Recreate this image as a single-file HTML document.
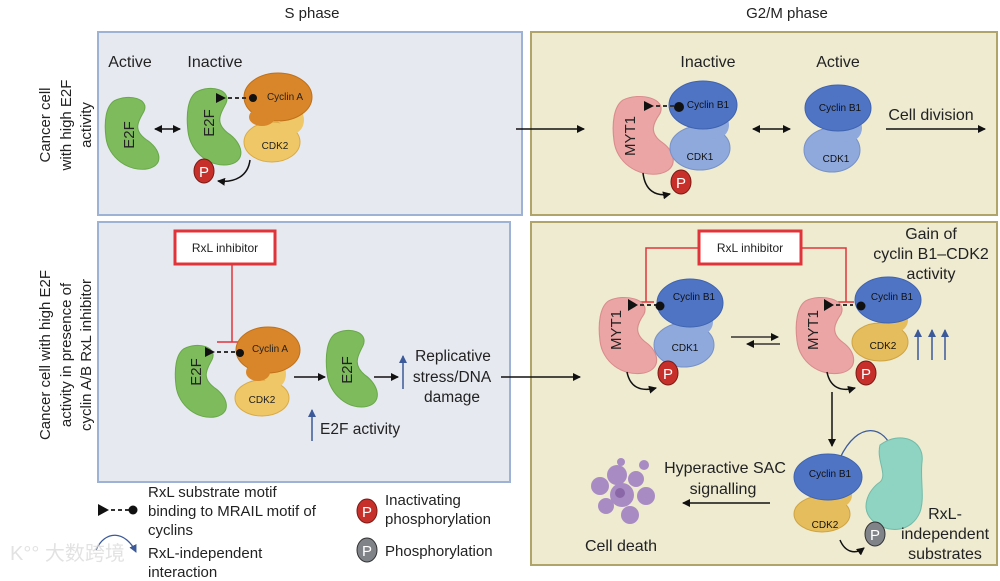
<!DOCTYPE html>
<html><head><meta charset="utf-8"><style>
html,body{margin:0;padding:0;background:#fff}
svg{display:block;font-family:"Liberation Sans","Noto Sans CJK SC",sans-serif}
</style></head><body>
<svg width="1000" height="581" viewBox="0 0 1000 581" xmlns="http://www.w3.org/2000/svg">
<defs>
<marker id="ah" markerWidth="8" markerHeight="8" refX="7" refY="4" orient="auto" markerUnits="userSpaceOnUse"><path d="M0,0 L8,4 L0,8 Z" fill="#111"/></marker>
<marker id="ahs" markerWidth="8" markerHeight="8" refX="1" refY="4" orient="auto" markerUnits="userSpaceOnUse"><path d="M8,0 L0,4 L8,8 Z" fill="#111"/></marker>
<marker id="ahb" markerWidth="8" markerHeight="8" refX="7" refY="4" orient="auto" markerUnits="userSpaceOnUse"><path d="M0,0 L8,4 L0,8 Z" fill="#3c5a99"/></marker>
<g id="e2f"><path d="M8,4 C22,-4 42,2 36,16 C30,28 26,36 38,46 C52,56 56,74 40,78 C22,82 2,66 0,44 C-2,26 0,10 8,4 Z" fill="#7dbb5c" stroke="#69a84a" stroke-width="1"/></g>
<g id="myt"><path d="M8,4 C22,-4 46,2 40,18 C34,28 30,38 42,48 C54,58 56,76 40,80 C20,84 2,68 0,46 C-2,28 0,10 8,4 Z" fill="#eba5a5" stroke="#d98c8c" stroke-width="1"/></g>
</defs>

<text x="312" y="18" font-size="15" text-anchor="middle" fill="#222">S phase</text>
<text x="787" y="18" font-size="15" text-anchor="middle" fill="#222">G2/M phase</text>

<!-- boxes -->
<rect x="98" y="32" width="424" height="183" fill="#e6e9f0" stroke="#9db2d4" stroke-width="2"/>
<rect x="98" y="222" width="412" height="260" fill="#e6e9f0" stroke="#9db2d4" stroke-width="2"/>
<rect x="531" y="32" width="466" height="183" fill="#eeebd1" stroke="#b0a46a" stroke-width="2"/>
<rect x="531" y="222" width="466" height="343" fill="#eeebd1" stroke="#b0a46a" stroke-width="2"/>

<!-- row labels -->
<g font-size="15" fill="#222" text-anchor="middle">
<text transform="translate(50,125) rotate(-90)">Cancer cell</text>
<text transform="translate(71,125) rotate(-90)">with high E2F</text>
<text transform="translate(91,125) rotate(-90)">activity</text>
<text transform="translate(50,355) rotate(-90)">Cancer cell with high E2F</text>
<text transform="translate(71,355) rotate(-90)">activity in presence of</text>
<text transform="translate(91,355) rotate(-90)">cyclin A/B RxL inhibitor</text>
</g>

<!-- TOP LEFT -->
<text x="130" y="67" font-size="16" text-anchor="middle" fill="#222">Active</text>
<text x="215" y="67" font-size="16" text-anchor="middle" fill="#222">Inactive</text>
<use href="#e2f" transform="translate(106,97) scale(1.05,0.92)"/>
<text transform="translate(134,135) rotate(-90)" font-size="15" text-anchor="middle" fill="#222">E2F</text>
<line x1="155" y1="129" x2="180" y2="129" stroke="#111" stroke-width="1.5" marker-end="url(#ah)" marker-start="url(#ahs)"/>
<use href="#e2f" transform="translate(188,88) scale(1.05,0.98)"/>
<text transform="translate(214,123) rotate(-90)" font-size="15" text-anchor="middle" fill="#222">E2F</text>
<ellipse cx="272" cy="142" rx="28" ry="20" fill="#efc766" stroke="#d9ab46"/>
<ellipse cx="292" cy="120" rx="12" ry="14" fill="#efc766"/>
<ellipse cx="278" cy="97" rx="34" ry="24" fill="#d9862a" stroke="#c07018"/>
<ellipse cx="262" cy="117" rx="13" ry="9" fill="#d9862a"/>
<text x="285" y="100" font-size="10" text-anchor="middle" fill="#222">Cyclin A</text>
<text x="275" y="149" font-size="10" text-anchor="middle" fill="#222">CDK2</text>
<path d="M216,93 L226,98 L216,103 Z" fill="#111"/>
<line x1="228" y1="98" x2="250" y2="98" stroke="#333" stroke-width="2" stroke-dasharray="4,3"/>
<circle cx="253" cy="98" r="4" fill="#111"/>
<ellipse cx="204" cy="171" rx="10" ry="12" fill="#c7302a" stroke="#7a1a15"/>
<text x="204" y="177" font-size="15" text-anchor="middle" fill="#fff">P</text>
<path d="M250,160 C248,176 235,183 218,181" fill="none" stroke="#111" stroke-width="1.5" marker-end="url(#ah)"/>

<line x1="516" y1="129" x2="584" y2="129" stroke="#111" stroke-width="1.5" marker-end="url(#ah)"/>

<!-- TOP RIGHT -->
<text x="708" y="67" font-size="16" text-anchor="middle" fill="#222">Inactive</text>
<text x="838" y="67" font-size="16" text-anchor="middle" fill="#222">Active</text>
<use href="#myt" transform="translate(614,96) scale(1.15,0.97)"/>
<text transform="translate(635,136) rotate(-90)" font-size="15" text-anchor="middle" fill="#222">MYT1</text>
<ellipse cx="700" cy="148" rx="30" ry="22" fill="#8fa9dc" stroke="#7892c8"/>
<ellipse cx="715" cy="125" rx="14" ry="14" fill="#8fa9dc"/>
<ellipse cx="703" cy="105" rx="34" ry="24" fill="#4f74c4" stroke="#3f63b0"/>
<text x="708" y="108" font-size="10" text-anchor="middle" fill="#111">Cyclin B1</text>
<text x="700" y="160" font-size="10" text-anchor="middle" fill="#111">CDK1</text>
<path d="M644,101 L654,106 L644,111 Z" fill="#111"/>
<line x1="656" y1="106" x2="675" y2="106" stroke="#333" stroke-width="2" stroke-dasharray="4,3"/>
<circle cx="679" cy="107" r="5" fill="#111"/>
<ellipse cx="681" cy="182" rx="10" ry="12" fill="#c7302a" stroke="#7a1a15"/>
<text x="681" y="188" font-size="15" text-anchor="middle" fill="#fff">P</text>
<path d="M643,173 C645,190 655,197 670,194" fill="none" stroke="#111" stroke-width="1.5" marker-end="url(#ah)"/>
<line x1="753" y1="129" x2="790" y2="129" stroke="#111" stroke-width="1.5" marker-end="url(#ah)" marker-start="url(#ahs)"/>
<ellipse cx="832" cy="150" rx="28" ry="22" fill="#8fa9dc" stroke="#7892c8"/>
<ellipse cx="848" cy="128" rx="14" ry="14" fill="#8fa9dc"/>
<ellipse cx="838" cy="108" rx="33" ry="23" fill="#4f74c4" stroke="#3f63b0"/>
<text x="840" y="111" font-size="10" text-anchor="middle" fill="#111">Cyclin B1</text>
<text x="836" y="162" font-size="10" text-anchor="middle" fill="#111">CDK1</text>
<text x="931" y="120" font-size="16" text-anchor="middle" fill="#222">Cell division</text>
<line x1="886" y1="129" x2="985" y2="129" stroke="#111" stroke-width="1.5" marker-end="url(#ah)"/>

<!-- BOTTOM LEFT -->
<rect x="175" y="231" width="100" height="33" fill="#fff" stroke="#e0343a" stroke-width="3"/>
<text x="225" y="252" font-size="12" text-anchor="middle" fill="#222">RxL inhibitor</text>
<line x1="232" y1="265" x2="232" y2="342" stroke="#e0343a" stroke-width="1.5"/>
<line x1="217" y1="342" x2="247" y2="342" stroke="#e0343a" stroke-width="1.5"/>
<use href="#e2f" transform="translate(176,345) scale(1.0,0.92) "/>
<text transform="translate(201,372) rotate(-90)" font-size="15" text-anchor="middle" fill="#222">E2F</text>
<ellipse cx="262" cy="398" rx="27" ry="18" fill="#efc766" stroke="#d9ab46"/>
<ellipse cx="275" cy="374" rx="11" ry="14" fill="#efc766"/>
<ellipse cx="268" cy="350" rx="32" ry="23" fill="#d9862a" stroke="#c07018"/>
<ellipse cx="258" cy="372" rx="12" ry="9" fill="#d9862a"/>
<text x="270" y="352" font-size="10" text-anchor="middle" fill="#222">Cyclin A</text>
<text x="262" y="403" font-size="10" text-anchor="middle" fill="#222">CDK2</text>
<path d="M205,347 L215,352 L205,357 Z" fill="#111"/>
<line x1="217" y1="352" x2="236" y2="352" stroke="#333" stroke-width="2" stroke-dasharray="4,3"/>
<circle cx="240" cy="353" r="4" fill="#111"/>
<line x1="294" y1="377" x2="325" y2="377" stroke="#111" stroke-width="1.5" marker-end="url(#ah)"/>
<use href="#e2f" transform="translate(327,330) scale(1.0,0.98)"/>
<text transform="translate(352,370) rotate(-90)" font-size="15" text-anchor="middle" fill="#222">E2F</text>
<line x1="374" y1="377" x2="398" y2="377" stroke="#111" stroke-width="1.5" marker-end="url(#ah)"/>
<line x1="403" y1="389" x2="403" y2="356" stroke="#3c5a99" stroke-width="1.5" marker-end="url(#ahb)"/>
<g font-size="15.5" fill="#222" text-anchor="middle">
<text x="453" y="361">Replicative</text>
<text x="452" y="382">stress/DNA</text>
<text x="452" y="402">damage</text>
</g>
<line x1="501" y1="377" x2="580" y2="377" stroke="#111" stroke-width="1.5" marker-end="url(#ah)"/>
<line x1="312" y1="441" x2="312" y2="410" stroke="#3c5a99" stroke-width="1.5" marker-end="url(#ahb)"/>
<text x="320" y="434" font-size="15.5" fill="#222">E2F activity</text>

<!-- legend -->
<path d="M98,504 L109,510 L98,516 Z" fill="#111"/>
<line x1="111" y1="510" x2="130" y2="510" stroke="#333" stroke-width="2" stroke-dasharray="4,3"/>
<circle cx="133" cy="510" r="4.5" fill="#111"/>
<g font-size="15" fill="#222">
<text x="148" y="497">RxL substrate motif</text>
<text x="148" y="516">binding to MRAIL motif of</text>
<text x="148" y="535">cyclins</text>
<text x="148" y="558">RxL-independent</text>
<text x="148" y="577">interaction</text>
<text x="385" y="505">Inactivating</text>
<text x="385" y="524">phosphorylation</text>
<text x="385" y="556">Phosphorylation</text>
</g>
<path d="M96,550 C105,530 125,530 136,552" fill="none" stroke="#3c5a99" stroke-width="1.3" marker-end="url(#ahb)"/>
<ellipse cx="367" cy="511" rx="10" ry="12" fill="#c7302a" stroke="#7a1a15"/>
<text x="367" y="517" font-size="15" text-anchor="middle" fill="#fff">P</text>
<ellipse cx="367" cy="550" rx="10" ry="12" fill="#808388" stroke="#333"/>
<text x="367" y="556" font-size="15" text-anchor="middle" fill="#fff">P</text>
<text x="10" y="560" font-size="20" fill="#dcdcdc" opacity="0.8">K°° 大数跨境</text>

<!-- BOTTOM RIGHT -->
<rect x="699" y="231" width="102" height="33" fill="#fff" stroke="#e0343a" stroke-width="3"/>
<text x="750" y="252" font-size="12" text-anchor="middle" fill="#222">RxL inhibitor</text>
<polyline points="698,248 646,248 646,302" fill="none" stroke="#e0343a" stroke-width="1.5"/>
<line x1="638" y1="302" x2="654" y2="302" stroke="#e0343a" stroke-width="1.5"/>
<polyline points="802,248 846,248 846,302" fill="none" stroke="#e0343a" stroke-width="1.5"/>
<line x1="838" y1="302" x2="854" y2="302" stroke="#e0343a" stroke-width="1.5"/>
<g font-size="16" fill="#222" text-anchor="middle">
<text x="931" y="239">Gain of</text>
<text x="931" y="259">cyclin B1–CDK2</text>
<text x="931" y="279">activity</text>
</g>
<use href="#myt" transform="translate(600,297) scale(1.1,0.95)"/>
<text transform="translate(621,330) rotate(-90)" font-size="15" text-anchor="middle" fill="#222">MYT1</text>
<ellipse cx="684" cy="345" rx="30" ry="22" fill="#8fa9dc" stroke="#7892c8"/>
<ellipse cx="700" cy="322" rx="13" ry="13" fill="#8fa9dc"/>
<ellipse cx="690" cy="303" rx="33" ry="24" fill="#4f74c4" stroke="#3f63b0"/>
<text x="694" y="300" font-size="10" text-anchor="middle" fill="#111">Cyclin B1</text>
<text x="685" y="351" font-size="10" text-anchor="middle" fill="#111">CDK1</text>
<path d="M628,299 L638,305 L628,311 Z" fill="#111"/>
<line x1="640" y1="305" x2="656" y2="305" stroke="#333" stroke-width="2" stroke-dasharray="4,3"/>
<circle cx="660" cy="306" r="4.5" fill="#111"/>
<ellipse cx="668" cy="373" rx="10" ry="12" fill="#c7302a" stroke="#7a1a15"/>
<text x="668" y="379" font-size="15" text-anchor="middle" fill="#fff">P</text>
<path d="M627,372 C630,387 640,392 656,388" fill="none" stroke="#111" stroke-width="1.5" marker-end="url(#ah)"/>
<line x1="731" y1="337" x2="778" y2="337" stroke="#111" stroke-width="1.3" marker-end="url(#ah)"/>
<line x1="780" y1="344" x2="747" y2="344" stroke="#111" stroke-width="1.3" marker-end="url(#ah)"/>
<use href="#myt" transform="translate(797,297) scale(1.1,0.95)"/>
<text transform="translate(818,330) rotate(-90)" font-size="15" text-anchor="middle" fill="#222">MYT1</text>
<ellipse cx="880" cy="342" rx="28" ry="19" fill="#e6bd5c" stroke="#cfa443"/>
<ellipse cx="896" cy="320" rx="12" ry="12" fill="#e6bd5c"/>
<ellipse cx="888" cy="300" rx="33" ry="23" fill="#4f74c4" stroke="#3f63b0"/>
<text x="892" y="300" font-size="10" text-anchor="middle" fill="#111">Cyclin B1</text>
<text x="883" y="349" font-size="10" text-anchor="middle" fill="#111">CDK2</text>
<path d="M824,299 L834,305 L824,311 Z" fill="#111"/>
<line x1="836" y1="305" x2="853" y2="305" stroke="#333" stroke-width="2" stroke-dasharray="4,3"/>
<circle cx="861" cy="306" r="4.5" fill="#111"/>
<ellipse cx="866" cy="373" rx="10" ry="12" fill="#c7302a" stroke="#7a1a15"/>
<text x="866" y="379" font-size="15" text-anchor="middle" fill="#fff">P</text>
<path d="M827,372 C830,387 840,392 855,388" fill="none" stroke="#111" stroke-width="1.5" marker-end="url(#ah)"/>
<line x1="918" y1="360" x2="918" y2="330" stroke="#3c5a99" stroke-width="1.5" marker-end="url(#ahb)"/>
<line x1="932" y1="360" x2="932" y2="330" stroke="#3c5a99" stroke-width="1.5" marker-end="url(#ahb)"/>
<line x1="945" y1="360" x2="945" y2="330" stroke="#3c5a99" stroke-width="1.5" marker-end="url(#ahb)"/>
<line x1="832" y1="392" x2="832" y2="446" stroke="#111" stroke-width="1.5" marker-end="url(#ah)"/>
<path d="M840,458 C858,420 885,425 893,452" fill="none" stroke="#3c5a99" stroke-width="1.3" marker-end="url(#ahb)"/>
<!-- substrate -->
<path d="M880,445 C900,430 925,440 922,462 C920,480 925,498 920,512 C912,532 888,535 872,520 C860,508 868,490 880,482 C888,475 876,460 880,445 Z" fill="#8fd3c2" stroke="#72bba8"/>
<ellipse cx="822" cy="514" rx="28" ry="18" fill="#e6bd5c" stroke="#cfa443"/>
<ellipse cx="840" cy="495" rx="12" ry="12" fill="#e6bd5c"/>
<ellipse cx="828" cy="477" rx="34" ry="23" fill="#4f74c4" stroke="#3f63b0"/>
<text x="830" y="477" font-size="10" text-anchor="middle" fill="#111">Cyclin B1</text>
<text x="825" y="528" font-size="10" text-anchor="middle" fill="#111">CDK2</text>
<ellipse cx="875" cy="534" rx="10" ry="12" fill="#808388" stroke="#333"/>
<text x="875" y="540" font-size="15" text-anchor="middle" fill="#fff">P</text>
<path d="M840,540 C845,552 855,555 864,548" fill="none" stroke="#111" stroke-width="1.5" marker-end="url(#ah)"/>
<g font-size="16" fill="#222" text-anchor="middle">
<text x="945" y="519">RxL-</text>
<text x="945" y="539">independent</text>
<text x="945" y="559">substrates</text>
<text x="725" y="473">Hyperactive SAC</text>
<text x="723" y="494">signalling</text>
<text x="621" y="551">Cell death</text>
</g>
<line x1="770" y1="503" x2="683" y2="503" stroke="#111" stroke-width="1.5" marker-end="url(#ah)"/>
<g fill="#a98bc4">
<circle cx="600" cy="486" r="9"/><circle cx="617" cy="475" r="10"/><circle cx="636" cy="479" r="8"/><circle cx="622" cy="495" r="12"/>
<circle cx="646" cy="496" r="9"/><circle cx="606" cy="506" r="8"/><circle cx="630" cy="515" r="9"/><circle cx="644" cy="465" r="5"/><circle cx="621" cy="462" r="4"/>
</g>
<circle cx="620" cy="493" r="5" fill="#8a68a8"/>
</svg>
</body></html>
